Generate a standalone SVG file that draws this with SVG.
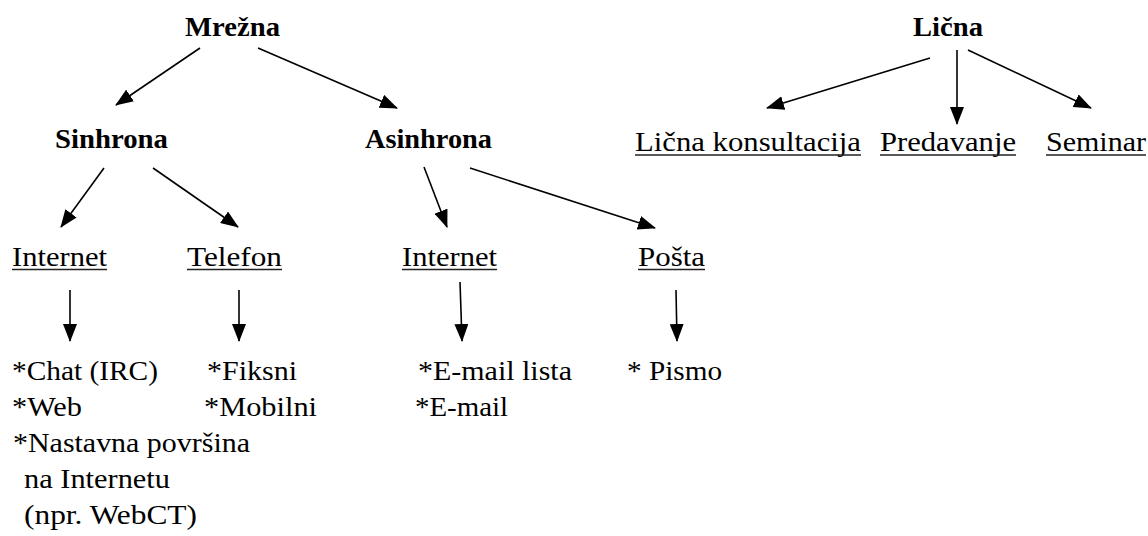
<svg xmlns="http://www.w3.org/2000/svg" width="1148" height="536" viewBox="0 0 1148 536">
<style>
text{font-family:Liberation Serif,Tinos,DejaVu Serif,Times New Roman,Times,serif;font-size:28px;fill:#000}
.b{font-weight:bold}
.u{stroke:#222;stroke-width:1.6}
.c{stroke:#000;stroke-width:1.6;fill:none;marker-end:url(#ah)}
</style>
<defs>
<marker id="ah" markerWidth="18" markerHeight="14" refX="17" refY="7" orient="auto" markerUnits="userSpaceOnUse">
<path d="M0,0 L18,7 L0,14 Z" fill="#000"/>
</marker>
</defs>
<rect width="1148" height="536" fill="#fff"/>
<g id="connectors">
<line class="c" x1="200" y1="48" x2="116" y2="105"/>
<line class="c" x1="258" y1="48" x2="397" y2="108"/>
<line class="c" x1="930" y1="58" x2="767" y2="108"/>
<line class="c" x1="957" y1="50" x2="957" y2="124"/>
<line class="c" x1="968" y1="50" x2="1091" y2="108"/>
<line class="c" x1="104" y1="168" x2="61" y2="227"/>
<line class="c" x1="153" y1="168" x2="238" y2="227"/>
<line class="c" x1="424" y1="167" x2="447" y2="227"/>
<line class="c" x1="470" y1="168" x2="655" y2="228"/>
<line class="c" x1="70" y1="290" x2="70" y2="341"/>
<line class="c" x1="239" y1="290" x2="239" y2="341"/>
<line class="c" x1="460" y1="282" x2="462" y2="341"/>
<line class="c" x1="676" y1="290" x2="677" y2="341"/>
</g>
<g id="mrezna"><text class="b" x="185" y="36" textLength="95" lengthAdjust="spacingAndGlyphs">Mrežna</text></g>
<g id="licna"><text class="b" x="913" y="36" textLength="70" lengthAdjust="spacingAndGlyphs">Lična</text></g>
<g id="sinhrona"><text class="b" x="55" y="148" textLength="113" lengthAdjust="spacingAndGlyphs">Sinhrona</text></g>
<g id="asinhrona"><text class="b" x="365" y="148" textLength="127" lengthAdjust="spacingAndGlyphs">Asinhrona</text></g>
<g id="licna-konsultacija"><text x="635" y="151" textLength="226" lengthAdjust="spacingAndGlyphs">Lična konsultacija</text><line class="u" x1="635" y1="155" x2="861" y2="155"/></g>
<g id="predavanje"><text x="880" y="151" textLength="136" lengthAdjust="spacingAndGlyphs">Predavanje</text><line class="u" x1="880" y1="155" x2="1016" y2="155"/></g>
<g id="seminar"><text x="1046" y="151" textLength="100" lengthAdjust="spacingAndGlyphs">Seminar</text><line class="u" x1="1046" y1="155" x2="1146" y2="155"/></g>
<g id="internet1"><text x="12" y="266" textLength="95" lengthAdjust="spacingAndGlyphs">Internet</text><line class="u" x1="12" y1="269.5" x2="107" y2="269.5"/></g>
<g id="telefon"><text x="187" y="266" textLength="95" lengthAdjust="spacingAndGlyphs">Telefon</text><line class="u" x1="187" y1="269.5" x2="282" y2="269.5"/></g>
<g id="internet2"><text x="402" y="266" textLength="95" lengthAdjust="spacingAndGlyphs">Internet</text><line class="u" x1="402" y1="269.5" x2="497" y2="269.5"/></g>
<g id="posta"><text x="638" y="266" textLength="67" lengthAdjust="spacingAndGlyphs">Pošta</text><line class="u" x1="638" y1="269.5" x2="705" y2="269.5"/></g>
<g id="internet1-items">
<text x="12" y="380" textLength="146" lengthAdjust="spacingAndGlyphs">*Chat (IRC)</text>
<text x="12" y="416" textLength="70" lengthAdjust="spacingAndGlyphs">*Web</text>
<text x="13" y="452" textLength="237" lengthAdjust="spacingAndGlyphs">*Nastavna površina</text>
<text x="24" y="488" textLength="146" lengthAdjust="spacingAndGlyphs">na Internetu</text>
<text x="24" y="524" textLength="173" lengthAdjust="spacingAndGlyphs">(npr. WebCT)</text>
</g>
<g id="telefon-items">
<text x="207" y="380" textLength="90" lengthAdjust="spacingAndGlyphs">*Fiksni</text>
<text x="204" y="416" textLength="113" lengthAdjust="spacingAndGlyphs">*Mobilni</text>
</g>
<g id="internet2-items">
<text x="418" y="380" textLength="154" lengthAdjust="spacingAndGlyphs">*E-mail lista</text>
<text x="415" y="416" textLength="93" lengthAdjust="spacingAndGlyphs">*E-mail</text>
</g>
<g id="posta-items">
<text x="627" y="380" textLength="95" lengthAdjust="spacingAndGlyphs">* Pismo</text>
</g>
</svg>
